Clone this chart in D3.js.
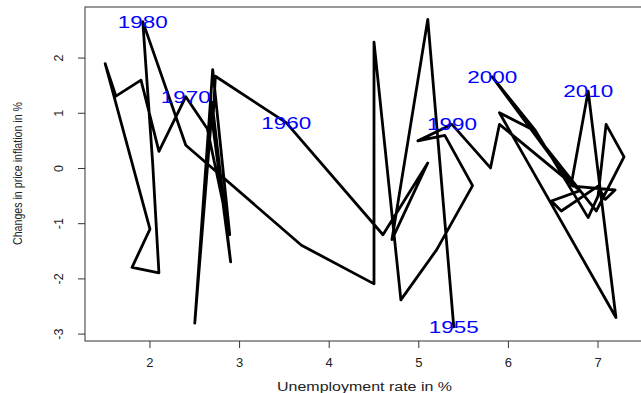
<!DOCTYPE html>
<html>
<head>
<meta charset="utf-8">
<script src="https://cdn.jsdelivr.net/npm/d3@7"></script>
<style>
  body { margin: 0; background: #fff; }
  svg { display: block; }
  text { font-family: "Liberation Sans", Arial, sans-serif; }
</style>
</head>
<body>
<svg id="chart" width="641" height="393"></svg>
<script>
const years = d3.range(1955, 2012);
const unemployment = [
  5.39, 5.10, 4.70, 5.10, 4.60, 3.52, 2.73, 2.70, 2.90, 2.70,
  2.70, 2.50, 2.70, 2.89, 2.64, 2.40, 2.10, 1.90, 1.62, 1.50,
  2.00, 2.00, 1.80, 2.10, 2.03, 1.92, 2.40, 3.69, 4.50, 4.50,
  4.80, 5.20, 5.60, 5.29, 4.99, 5.37, 5.80, 5.90, 6.80, 6.48,
  6.59, 7.00, 7.08, 7.19, 6.72, 5.82, 6.30, 6.89, 7.00, 7.09,
  7.29, 6.98, 6.25, 5.90, 7.20, 6.89, 6.70
];
const inflationChange = [
  -2.87, 2.70, -1.29, 0.10, -1.20, 0.83, 1.67, 0.80, -1.69, 1.10,
  1.20, -2.80, 1.79, -1.20, 0.72, 1.30, 0.31, 1.60, 1.31, 1.90,
  -1.10, -1.10, -1.79, -1.89, 0.10, 2.66, 0.42, -1.39, -2.09, 2.29,
  -2.38, -1.47, -0.31, 0.60, 0.50, 0.80, 0.01, 0.80, -0.40, -0.59,
  -0.77, -0.32, -0.56, -0.39, -0.32, 1.66, 0.69, -0.89, -0.50, 0.80,
  0.21, -0.77, 0.72, 1.01, -2.70, 1.40, -0.30
];
const labelYears = [1955, 1960, 1970, 1980, 1990, 2000, 2010];
const xTicks = [2, 3, 4, 5, 6, 7];
const yTicks = [-3, -2, -1, 0, 1, 2];

const points = years.map((yr, i) => ({ year: yr, u: unemployment[i], d: inflationChange[i] }));

const svg = d3.select('#chart');
const plot = { left: 85, right: 644, top: 7, bottom: 341 };

const x = d3.scaleLinear().domain([1.275, 7.513]).range([plot.left, plot.right]);
const y = d3.scaleLinear().domain([-3.125, 2.925]).range([plot.bottom, plot.top]);

// box around the plot region (right side falls outside the window)
svg.append('rect')
  .attr('x', plot.left)
  .attr('y', plot.top)
  .attr('width', plot.right - plot.left)
  .attr('height', plot.bottom - plot.top)
  .attr('fill', 'none')
  .attr('stroke', '#333')
  .attr('stroke-width', 1);

// x axis
const xAxis = svg.append('g').attr('transform', `translate(0,${plot.bottom})`);
xAxis.selectAll('line')
  .data(xTicks)
  .enter()
  .append('line')
  .attr('x1', d => x(d)).attr('x2', d => x(d))
  .attr('y1', 0).attr('y2', 7)
  .attr('stroke', '#333');
xAxis.selectAll('text')
  .data(xTicks)
  .enter()
  .append('text')
  .attr('x', d => x(d))
  .attr('y', 25.5)
  .attr('text-anchor', 'middle')
  .attr('font-size', 13)
  .attr('fill', '#222')
  .text(d => d);

// y axis, labels turned like in R
const yAxis = svg.append('g').attr('transform', `translate(${plot.left},0)`);
yAxis.selectAll('line')
  .data(yTicks)
  .enter()
  .append('line')
  .attr('x1', 0).attr('x2', -7)
  .attr('y1', d => y(d)).attr('y2', d => y(d))
  .attr('stroke', '#333');
yAxis.selectAll('text')
  .data(yTicks)
  .enter()
  .append('text')
  .attr('transform', d => `translate(-22.5,${y(d)}) rotate(-90)`)
  .attr('text-anchor', 'middle')
  .attr('font-size', 12.5)
  .attr('fill', '#222')
  .text(d => d);

// axis titles
svg.append('text')
  .attr('x', 364.5)
  .attr('y', 390.5)
  .attr('text-anchor', 'middle')
  .attr('font-size', 12.5)
  .attr('textLength', 175)
  .attr('lengthAdjust', 'spacingAndGlyphs')
  .attr('fill', '#222')
  .text('Unemployment rate in %');

svg.append('text')
  .attr('transform', 'translate(22,173.5) rotate(-90)')
  .attr('text-anchor', 'middle')
  .attr('font-size', 12.5)
  .attr('textLength', 143)
  .attr('lengthAdjust', 'spacingAndGlyphs')
  .attr('fill', '#222')
  .text('Changes in price inflation in %');

// path of the yearly points
const line = d3.line()
  .x(d => x(d.u))
  .y(d => y(d.d));

svg.append('path')
  .datum(points)
  .attr('fill', 'none')
  .attr('stroke', '#000')
  .attr('stroke-width', 2.8)
  .attr('stroke-linejoin', 'round')
  .attr('stroke-linecap', 'round')
  .attr('d', line);

// year labels centred on their points
svg.selectAll('.year-label')
  .data(points.filter(p => labelYears.includes(p.year)))
  .enter()
  .append('text')
  .attr('class', 'year-label')
  .attr('x', d => x(d.u))
  .attr('y', d => y(d.d))
  .attr('dy', '0.36em')
  .attr('text-anchor', 'middle')
  .attr('font-size', 17)
  .attr('textLength', 50)
  .attr('lengthAdjust', 'spacingAndGlyphs')
  .attr('fill', '#0000ff')
  .text(d => d.year);
</script>
</body>
</html>
